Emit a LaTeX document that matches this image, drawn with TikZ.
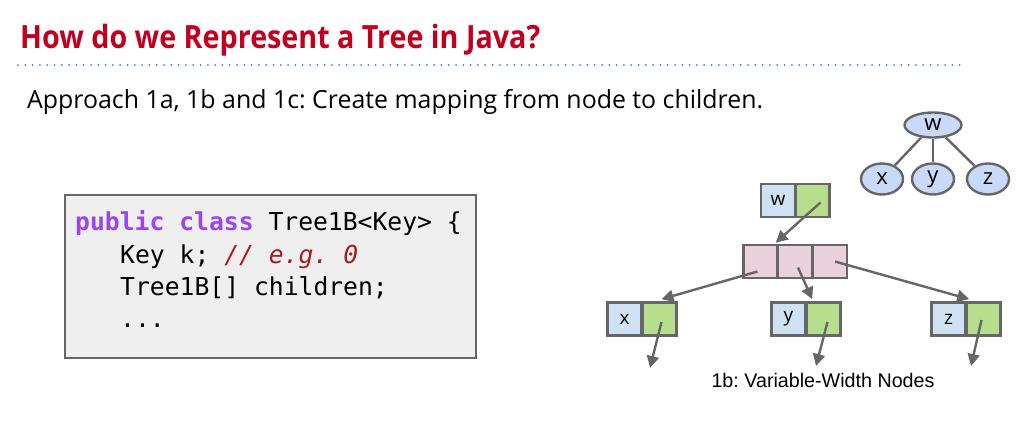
\documentclass[tikz,border=0pt]{standalone}
\usepackage{fontspec}
\setmainfont{Open Sans}
\newfontfamily\codefont{DejaVu Sans Mono}
\newfontfamily\labelfont{Liberation Sans}
\usepackage{graphicx}
\usepackage{xcolor}
\usetikzlibrary{shapes.geometric,arrows.meta,positioning,calc}
\frenchspacing

\definecolor{titlered}{HTML}{C0001E}
\definecolor{dotblue}{HTML}{3D85C6}
\definecolor{keypurple}{HTML}{9C44F0}
\definecolor{commentred}{HTML}{A61C1C}
\definecolor{codegray}{HTML}{EFEFEF}
\definecolor{edgegray}{HTML}{666666}
\definecolor{keyblue}{HTML}{CFE2F3}
\definecolor{ptrgreen}{HTML}{B6DE8C}
\definecolor{arrpink}{HTML}{EAD1DC}
\definecolor{treeblue}{HTML}{C9DAF8}

\begin{document}
\begin{tikzpicture}[
    x=1pt, y=-1pt,
    cell/.style={rectangle, draw=edgegray, line width=2.6pt, minimum width=34pt, minimum height=33pt, inner sep=0pt, font=\fontsize{19}{19}\selectfont},
    keycell/.style={cell, fill=keyblue},
    ptrcell/.style={cell, fill=ptrgreen},
    arrcell/.style={cell, fill=arrpink},
    tnode/.style={ellipse, draw=edgegray, line width=2.4pt, fill=treeblue, minimum width=42pt, minimum height=31pt, inner sep=0pt, font=\fontsize{22}{22}\selectfont},
    tedge/.style={draw=edgegray, line width=2.4pt},
    ptr/.style={-{Triangle[length=12pt,width=12pt]}, draw=edgegray, line width=2.4pt, color=edgegray},
    codeline/.style={anchor=base west, inner sep=0pt, font=\codefont\fontsize{24.7}{24.7}\selectfont}
]
\useasboundingbox (0,0) rectangle (1019,447);

% heading
\node[anchor=base west, inner sep=0pt, text=titlered] (title) at (20,48)
    {\resizebox{520pt}{\height}{\fontsize{32}{32}\selectfont\bfseries How do we Represent a Tree in Java?}};
\draw[dotblue, line width=2pt, line cap=round, dash pattern=on 0pt off 7.3pt] (18,65) -- (966,65);
\node[anchor=base west, inner sep=0pt] (approach) at (27,108)
    {\resizebox{736pt}{\height}{\fontsize{25}{25}\selectfont Approach 1a, 1b and 1c: Create mapping from node to children.}};

% code box
\node[rectangle, draw=edgegray, line width=1.6pt, fill=codegray, minimum width=411pt, minimum height=163pt, anchor=north west] (codebox) at (64,194) {};
\node[codeline] (line1) at (75,230) {\textcolor{keypurple}{\bfseries public class} Tree1B<Key> \{};
\node[codeline] (line2) at (120,263) {Key k; \textcolor{commentred}{\itshape // e.g. 0}};
\node[codeline] (line3) at (120,295) {Tree1B[] children;};
\node[codeline] (line4) at (120,327) {...};

% abstract tree
\node[tnode, minimum width=57pt, minimum height=25pt] (tw) at (933,125) {w};
\node[tnode] (tx) at (882,179) {x};
\node[tnode] (ty) at (933,179) {y};
\node[tnode] (tz) at (988,179) {z};
\foreach \c in {tx,ty,tz}
    \draw[tedge] (tw) -- (\c);

% variable-width nodes
\node[keycell] (wk) at (778,200.5) {w};
\node[ptrcell] (wp) at (812.5,200.5) {};
\node[arrcell] (a1) at (760.5,261.5) {};
\node[arrcell] (a2) at (795,261.5) {};
\node[arrcell] (a3) at (830,261.5) {};
\node[keycell] (xk) at (624.5,319) {x};
\node[ptrcell] (xp) at (659.5,319) {};
\node[keycell] (yk) at (788.5,319) {y};
\node[ptrcell] (yp) at (823.5,319) {};
\node[keycell] (zk) at (948.5,319) {z};
\node[ptrcell] (zp) at (983.5,319) {};

\coordinate (xnull) at (650,368);
\coordinate (ynull) at (816,366);
\coordinate (znull) at (971,366);

\draw[ptr] ($(wp.center)+(8,2)$) -- ([xshift=-1pt,yshift=1pt]a2.north west);
\draw[ptr] ($(a1.center)+(-3,10)$) -- ([xshift=2pt,yshift=2pt]xp.north);
\draw[ptr] ($(a2.center)+(3,6)$) -- ([xshift=7pt,yshift=2pt]yp.north west);
\draw[ptr] ($(a3.center)+(5,0)$) -- ([xshift=4pt,yshift=2pt]zp.north west);
\draw[ptr] ($(xp.center)+(2,3)$) -- (xnull);
\draw[ptr] ($(yp.center)+(4,3)$) -- (ynull);
\draw[ptr] ($(zp.center)+(-2,1)$) -- (znull);

\node[anchor=base, inner sep=0pt, font=\labelfont\fontsize{19.7}{19.7}\selectfont] (caption) at (823,387) {1b: Variable-Width Nodes};

\end{tikzpicture}
\end{document}
